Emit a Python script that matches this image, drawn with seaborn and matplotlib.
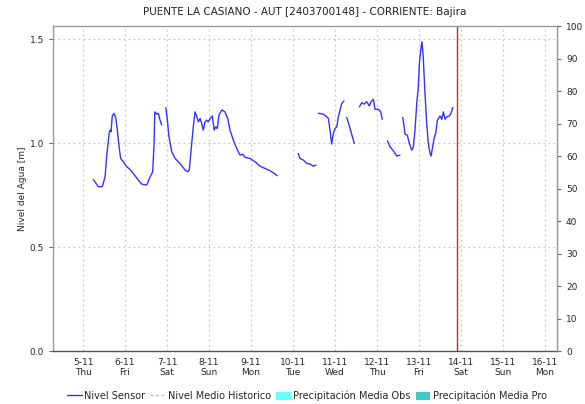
import pandas as pd
import numpy as np
import matplotlib
matplotlib.use("Agg")
import matplotlib.pyplot as plt
from matplotlib.lines import Line2D
from matplotlib.patches import Patch
import seaborn as sns

# sensor readings: hours since 2020-11-05 00:00, level [m], segment id (gaps between segments)
hours = [5.9, 8.7, 11.0, 12.6, 13.5, 14.9, 15.4, 16.0, 16.7, 17.7, 18.7, 19.6, 20.6, 21.5, 23.0,
         25.0, 26.9, 28.7, 31.6, 33.5, 36.0, 36.7, 37.9, 39.8, 40.6, 41.0, 42.1, 43.0, 44.0, 45.0,
         47.3, 48.2, 49.1, 50.7, 52.6, 55.4, 58.3, 59.8, 60.7, 62.1, 63.0, 64.0, 65.0, 65.9, 66.9,
         67.8, 68.7, 69.7, 70.7, 71.6, 72.6, 73.9, 74.9, 75.8, 76.7, 77.7, 79.3, 81.1, 82.7, 84.0,
         85.9, 87.8, 89.7, 91.3, 92.6, 95.4, 98.3, 101.1, 104.0, 106.9, 108.7, 111.0,
         123.0, 124.0, 125.9, 127.8, 129.7, 131.6, 133.1,
         134.5, 137.3, 139.3, 140.2, 141.1, 142.1, 143.0, 144.0, 145.0, 145.9, 146.9, 147.8, 149.1,
         150.7, 152.6, 155.0,
         157.9, 159.3, 160.6, 162.1, 163.6, 164.6, 165.9, 166.9, 168.8, 170.1, 171.0,
         173.9, 175.4, 177.3, 179.3, 181.1,
         182.7, 183.4, 184.0, 185.3, 186.5, 187.8, 188.7, 189.7, 190.7, 191.6, 192.2, 193.1, 193.7,
         194.4, 195.4, 196.4, 197.3, 198.3, 198.9, 199.8, 200.6, 201.5, 202.5, 204.0, 205.0, 205.9,
         206.9, 207.8, 209.3, 210.3, 211.3]
levels = [0.825, 0.79, 0.79, 0.838, 0.934, 1.047, 1.062, 1.054, 1.13, 1.143, 1.123, 1.062, 0.982, 0.926, 0.91,
          0.886, 0.873, 0.854, 0.822, 0.803, 0.798, 0.803, 0.830, 0.862, 0.998, 1.15, 1.139, 1.143, 1.11, 1.087,
          1.171, 1.11, 1.03, 0.958, 0.926, 0.902, 0.870, 0.862, 0.870, 0.998, 1.078, 1.15, 1.126, 1.102, 1.118,
          1.094, 1.062, 1.102, 1.11, 1.102, 1.118, 1.13, 1.062, 1.078, 1.070, 1.135, 1.159, 1.15, 1.118, 1.062,
          1.014, 0.974, 0.942, 0.946, 0.931, 0.926, 0.91, 0.889, 0.878, 0.867, 0.857, 0.843,
          0.950, 0.926, 0.918, 0.902, 0.899, 0.889, 0.894,
          1.143, 1.139, 1.126, 1.118, 1.062, 0.995, 1.046, 1.07, 1.078, 1.126, 1.159, 1.19, 1.202,
          1.123, 1.07, 0.998,
          1.174, 1.194, 1.187, 1.199, 1.178, 1.199, 1.21, 1.162, 1.162, 1.15, 1.114,
          1.011, 0.982, 0.963, 0.9375, 0.942,
          1.123, 1.086, 1.043, 1.038, 0.998, 0.966, 0.979, 1.062, 1.19, 1.271, 1.383, 1.455, 1.487,
          1.415, 1.239, 1.094, 0.998, 0.95, 0.9375, 0.982, 1.022, 1.046, 1.11, 1.13, 1.114, 1.15,
          1.114, 1.126, 1.130, 1.143, 1.171]
seg_len = [30, 42, 7, 13, 3, 11, 5, 31]

start = pd.Timestamp("2020-11-05 00:00")
now_line = pd.Timestamp("2020-11-13 21:43")
x_min = pd.Timestamp("2020-11-04 06:50")
x_max = pd.Timestamp("2020-11-16 06:50")
day_ticks = pd.date_range("2020-11-05", "2020-11-16", freq="D")
day_names = ["Mon", "Tue", "Wed", "Thu", "Fri", "Sat", "Sun"]

df = pd.DataFrame({
    "time": start + pd.to_timedelta(hours, unit="h"),
    "level": levels,
    "seg": np.repeat(np.arange(len(seg_len)), seg_len),
})

sns.set_style("white")
plt.rcParams["font.family"] = ["DejaVu Sans"]

fig = plt.figure(figsize=(5.85, 4.04), dpi=100)
ax = fig.add_axes([0.0906, 0.131, 0.8615, 0.8045])

sns.lineplot(data=df, x="time", y="level", units="seg", estimator=None,
             color="#3333ff", linewidth=1.0, ax=ax)
ax.axvline(now_line, color="#e02020", linewidth=1.0)

ax.set_xlim(x_min, x_max)
ax.set_ylim(0, 1.5625)
ax.set_yticks([0.0, 0.5, 1.0, 1.5])
ax.set_yticklabels(["0.0", "0.5", "1.0", "1.5"])
ax.set_xticks(day_ticks)
ax.set_xticklabels([f"{d.day}-{d.month}\n{day_names[d.weekday()]}" for d in day_ticks])
ax.grid(True, color="#c8c8c8", linestyle=(0, (1.5, 2.5)), linewidth=0.9)
ax.set_xlabel("")
ax.set_ylabel("Nivel del Agua [m]", fontsize=6.5, labelpad=2)
ax.tick_params(axis="both", labelsize=6.5, length=3, color="#666666", direction="out")
ax.tick_params(axis="x", pad=2)
for sp in ax.spines.values():
    sp.set_color("#999999")
    sp.set_linewidth(1.0)
ax.spines["bottom"].set_color("#555555")
ax.spines["bottom"].set_linestyle((0, (1, 1)))

ax2 = ax.twinx()
ax2.set_ylim(0, 100)
ax2.set_yticks(np.arange(0, 101, 10))
ax2.tick_params(axis="y", labelsize=6.5, length=3, color="#666666", direction="out")
ax2.grid(False)
for sp in ax2.spines.values():
    sp.set_visible(False)
ax2.spines["right"].set_visible(True)
ax2.spines["right"].set_color("#999999")

ax.set_title("PUENTE LA CASIANO - AUT [2403700148] - CORRIENTE: Bajira",
             fontsize=7.5, color="#222222", pad=8)

handles = [
    Line2D([], [], color="#3333ff", linewidth=1.0),
    Line2D([], [], color="#bbbbbb", linewidth=1.0, linestyle=(0, (2, 2))),
    Patch(facecolor="#66ffff", edgecolor="none"),
    Patch(facecolor="#40c8c8", edgecolor="none"),
]
labels = ["Nivel Sensor", "Nivel Medio Historico", "Precipitación Media Obs", "Precipitación Media Pro"]
fig.legend(handles, labels, loc="center", bbox_to_anchor=(0.525, 0.02), ncol=4, frameon=False,
           fontsize=7, handlelength=1.5, handletextpad=0.3, columnspacing=0.5, handleheight=0.9)

fig.savefig("out.png", dpi=100, facecolor="white")
